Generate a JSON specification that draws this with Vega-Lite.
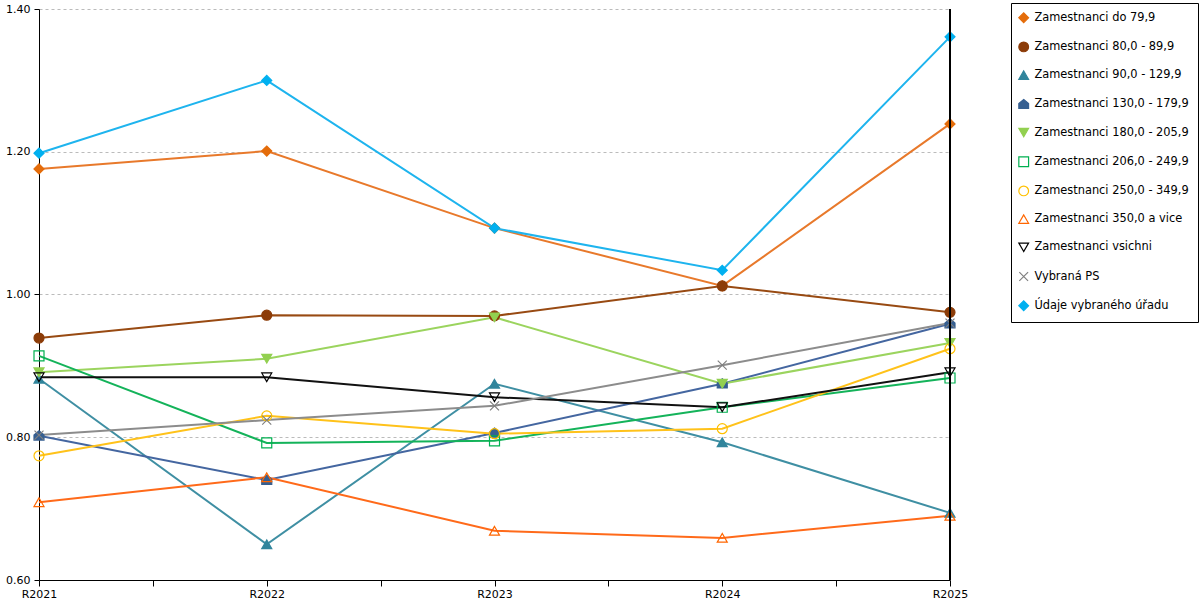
{
  "$schema": "https://vega.github.io/schema/vega-lite/v6.json",
  "autosize": {"type": "none"},
  "width": 911,
  "height": 571,
  "padding": {"left": 39, "top": 9, "right": 250, "bottom": 20},
  "background": "white",
  "config": {
    "view": {"stroke": null},
    "font": "DejaVu Sans",
    "axis": {"labelFont": "DejaVu Sans", "labelFontSize": 11, "labelColor": "#000", "domainColor": "black", "tickColor": "black", "title": null},
    "legend": {
      "orient": "none", "legendX": 972, "legendY": -6, "title": null,
      "strokeColor": "black", "fillColor": "white", "padding": 9,
      "rowPadding": 14.2, "symbolSize": 95, "symbolStrokeWidth": 1.2,
      "symbolOffset": -2,
      "labelFont": "DejaVu Sans", "labelFontSize": 11.4, "labelColor": "#000",
      "labelOffset": 5, "labelLimit": 300
    }
  },
  "data": {
    "values": [
      {"series": "Zamestnanci do 79,9", "year": 2021, "value": 1.176},
      {"series": "Zamestnanci do 79,9", "year": 2022, "value": 1.201},
      {"series": "Zamestnanci do 79,9", "year": 2023, "value": 1.093},
      {"series": "Zamestnanci do 79,9", "year": 2024, "value": 1.012},
      {"series": "Zamestnanci do 79,9", "year": 2025, "value": 1.239},
      {"series": "Zamestnanci 80,0 - 89,9", "year": 2021, "value": 0.939},
      {"series": "Zamestnanci 80,0 - 89,9", "year": 2022, "value": 0.971},
      {"series": "Zamestnanci 80,0 - 89,9", "year": 2023, "value": 0.970},
      {"series": "Zamestnanci 80,0 - 89,9", "year": 2024, "value": 1.012},
      {"series": "Zamestnanci 80,0 - 89,9", "year": 2025, "value": 0.975},
      {"series": "Zamestnanci 90,0 - 129,9", "year": 2021, "value": 0.882},
      {"series": "Zamestnanci 90,0 - 129,9", "year": 2022, "value": 0.650},
      {"series": "Zamestnanci 90,0 - 129,9", "year": 2023, "value": 0.875},
      {"series": "Zamestnanci 90,0 - 129,9", "year": 2024, "value": 0.793},
      {"series": "Zamestnanci 90,0 - 129,9", "year": 2025, "value": 0.694},
      {"series": "Zamestnanci 130,0 - 179,9", "year": 2021, "value": 0.802},
      {"series": "Zamestnanci 130,0 - 179,9", "year": 2022, "value": 0.740},
      {"series": "Zamestnanci 130,0 - 179,9", "year": 2023, "value": 0.806},
      {"series": "Zamestnanci 130,0 - 179,9", "year": 2024, "value": 0.875},
      {"series": "Zamestnanci 130,0 - 179,9", "year": 2025, "value": 0.959},
      {"series": "Zamestnanci 180,0 - 205,9", "year": 2021, "value": 0.891},
      {"series": "Zamestnanci 180,0 - 205,9", "year": 2022, "value": 0.910},
      {"series": "Zamestnanci 180,0 - 205,9", "year": 2023, "value": 0.968},
      {"series": "Zamestnanci 180,0 - 205,9", "year": 2024, "value": 0.875},
      {"series": "Zamestnanci 180,0 - 205,9", "year": 2025, "value": 0.932},
      {"series": "Zamestnanci 206,0 - 249,9", "year": 2021, "value": 0.914},
      {"series": "Zamestnanci 206,0 - 249,9", "year": 2022, "value": 0.792},
      {"series": "Zamestnanci 206,0 - 249,9", "year": 2023, "value": 0.795},
      {"series": "Zamestnanci 206,0 - 249,9", "year": 2024, "value": 0.842},
      {"series": "Zamestnanci 206,0 - 249,9", "year": 2025, "value": 0.883},
      {"series": "Zamestnanci 250,0 - 349,9", "year": 2021, "value": 0.774},
      {"series": "Zamestnanci 250,0 - 349,9", "year": 2022, "value": 0.830},
      {"series": "Zamestnanci 250,0 - 349,9", "year": 2023, "value": 0.805},
      {"series": "Zamestnanci 250,0 - 349,9", "year": 2024, "value": 0.812},
      {"series": "Zamestnanci 250,0 - 349,9", "year": 2025, "value": 0.924},
      {"series": "Zamestnanci 350,0 a vice", "year": 2021, "value": 0.709},
      {"series": "Zamestnanci 350,0 a vice", "year": 2022, "value": 0.744},
      {"series": "Zamestnanci 350,0 a vice", "year": 2023, "value": 0.669},
      {"series": "Zamestnanci 350,0 a vice", "year": 2024, "value": 0.659},
      {"series": "Zamestnanci 350,0 a vice", "year": 2025, "value": 0.690},
      {"series": "Zamestnanci vsichni", "year": 2021, "value": 0.884},
      {"series": "Zamestnanci vsichni", "year": 2022, "value": 0.884},
      {"series": "Zamestnanci vsichni", "year": 2023, "value": 0.856},
      {"series": "Zamestnanci vsichni", "year": 2024, "value": 0.842},
      {"series": "Zamestnanci vsichni", "year": 2025, "value": 0.891},
      {"series": "Vybraná PS", "year": 2021, "value": 0.803},
      {"series": "Vybraná PS", "year": 2022, "value": 0.824},
      {"series": "Vybraná PS", "year": 2023, "value": 0.844},
      {"series": "Vybraná PS", "year": 2024, "value": 0.901},
      {"series": "Vybraná PS", "year": 2025, "value": 0.960},
      {"series": "Údaje vybraného úřadu", "year": 2021, "value": 1.198},
      {"series": "Údaje vybraného úřadu", "year": 2022, "value": 1.300},
      {"series": "Údaje vybraného úřadu", "year": 2023, "value": 1.093},
      {"series": "Údaje vybraného úřadu", "year": 2024, "value": 1.034},
      {"series": "Údaje vybraného úřadu", "year": 2025, "value": 1.361}
    ]
  },
  "layer": [
    {
      "mark": {"type": "line", "strokeWidth": 2},
      "encoding": {
        "x": {
          "field": "year", "type": "quantitative",
          "scale": {"domain": [2021, 2025], "nice": false, "zero": false},
          "axis": {
            "values": [2021, 2021.5, 2022, 2022.5, 2023, 2023.5, 2024, 2024.5, 2025],
            "labelExpr": "datum.value % 1 === 0 ? 'R' + datum.value : ''",
            "grid": false, "tickSize": 6, "labelPadding": 2, "labelFlush": false
          }
        },
        "y": {
          "field": "value", "type": "quantitative",
          "scale": {"domain": [0.6, 1.4], "nice": false, "zero": false},
          "axis": {
            "values": [0.6, 0.8, 1.0, 1.2, 1.4], "format": ".2f",
            "grid": true, "gridColor": "#bbbbbb", "gridDash": [3, 3], "gridWidth": 1,
            "tickSize": 5, "labelPadding": 4
          }
        },
        "color": {
          "field": "series", "type": "nominal", "legend": null,
          "sort": ["Zamestnanci do 79,9", "Zamestnanci 80,0 - 89,9", "Zamestnanci 90,0 - 129,9", "Zamestnanci 130,0 - 179,9", "Zamestnanci 180,0 - 205,9", "Zamestnanci 206,0 - 249,9", "Zamestnanci 250,0 - 349,9", "Zamestnanci 350,0 a vice", "Zamestnanci vsichni", "Vybraná PS", "Údaje vybraného úřadu"],
          "scale": {
            "range": ["#E8792B", "#984A12", "#3F8FA3", "#4466A0", "#9BD45E", "#14B35A", "#FFC21A", "#FF6A1A", "#111111", "#8C8C8C", "#1EB4EE"]
          }
        }
      }
    },
    {
      "mark": {"type": "point", "size": 100, "strokeWidth": 1.2, "opacity": 1},
      "encoding": {
        "x": {"field": "year", "type": "quantitative"},
        "y": {"field": "value", "type": "quantitative"},
        "stroke": {
          "field": "series", "type": "nominal",
          "scale": {
            "domain": ["Zamestnanci do 79,9", "Zamestnanci 80,0 - 89,9", "Zamestnanci 90,0 - 129,9", "Zamestnanci 130,0 - 179,9", "Zamestnanci 180,0 - 205,9", "Zamestnanci 206,0 - 249,9", "Zamestnanci 250,0 - 349,9", "Zamestnanci 350,0 a vice", "Zamestnanci vsichni", "Vybraná PS", "Údaje vybraného úřadu"],
            "range": ["#E46C0A", "#8C3C08", "#31859C", "#365F91", "#92D050", "#00B050", "#FFC000", "#FF6600", "#000000", "#808080", "#00B0F0"]
          }
        },
        "fill": {
          "field": "series", "type": "nominal",
          "scale": {
            "domain": ["Zamestnanci do 79,9", "Zamestnanci 80,0 - 89,9", "Zamestnanci 90,0 - 129,9", "Zamestnanci 130,0 - 179,9", "Zamestnanci 180,0 - 205,9", "Zamestnanci 206,0 - 249,9", "Zamestnanci 250,0 - 349,9", "Zamestnanci 350,0 a vice", "Zamestnanci vsichni", "Vybraná PS", "Údaje vybraného úřadu"],
            "range": ["#E46C0A", "#8C3C08", "#31859C", "#365F91", "#92D050", "transparent", "transparent", "transparent", "transparent", "transparent", "#00B0F0"]
          }
        },
        "shape": {
          "field": "series", "type": "nominal",
          "scale": {
            "domain": ["Zamestnanci do 79,9", "Zamestnanci 80,0 - 89,9", "Zamestnanci 90,0 - 129,9", "Zamestnanci 130,0 - 179,9", "Zamestnanci 180,0 - 205,9", "Zamestnanci 206,0 - 249,9", "Zamestnanci 250,0 - 349,9", "Zamestnanci 350,0 a vice", "Zamestnanci vsichni", "Vybraná PS", "Údaje vybraného úřadu"],
            "range": ["diamond", "circle", "triangle-up", "M0,-1L1,-0.15L1,0.85L-1,0.85L-1,-0.15Z", "triangle-down", "square", "circle", "triangle-up", "triangle-down", "M-0.9,-0.9L0.9,0.9M-0.9,0.9L0.9,-0.9", "diamond"]
          }
        }
      }
    },
    {
      "mark": {"type": "rule", "color": "black", "strokeWidth": 1},
      "encoding": {"x": {"datum": 2025, "type": "quantitative"}}
    }
  ]
}
